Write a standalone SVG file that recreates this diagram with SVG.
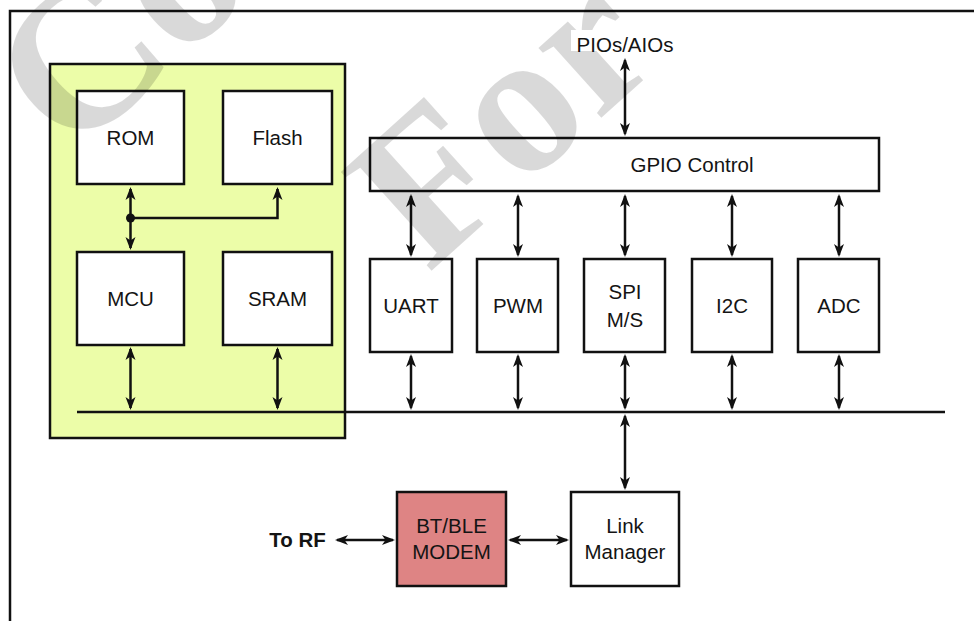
<svg xmlns="http://www.w3.org/2000/svg" width="974" height="621" viewBox="0 0 974 621">
  <style>
    .box { fill: #ffffff; stroke: #111111; stroke-width: 2.5; }
    .lbl { font-family: "Liberation Sans", Arial, sans-serif; font-size: 20.5px; fill: #141414; text-anchor: middle; }
    .bold { font-weight: bold; }
    .wire { fill: none; stroke: #111111; stroke-width: 2.5; }
    .arr { fill: none; stroke: #111111; stroke-width: 2.5; marker-start: url(#ah); marker-end: url(#ah); }
    .wm { font-family: "Liberation Serif", "Times New Roman", serif; font-weight: bold; font-size: 205px; fill: #000000; fill-opacity: 0.15; }
  </style>
  <defs>
    <marker id="ah" viewBox="0 0 13 12" refX="11" refY="6" markerWidth="13" markerHeight="12" markerUnits="userSpaceOnUse" orient="auto-start-reverse">
      <path d="M0,1 L13,6 L0,11 L3.5,6 Z" fill="#111111"/>
    </marker>
  </defs>

  <rect width="974" height="621" fill="#ffffff"/>

  <!-- outer frame (top and left edges) -->
  <path d="M10,621 L10,11 L974,11" class="wire"/>

  <!-- processor subsystem -->
  <g id="cpu-block">
    <rect x="50" y="64" width="295" height="374" fill="#ecfda8" stroke="#111111" stroke-width="2.5"/>
  </g>
  <g id="rom">
    <rect class="box" x="77" y="91" width="107" height="93"/>
    <text class="lbl" x="130.5" y="145">ROM</text>
  </g>
  <g id="flash">
    <rect class="box" x="223" y="91" width="109" height="93"/>
    <text class="lbl" x="277.5" y="145">Flash</text>
  </g>
  <g id="mcu">
    <rect class="box" x="77" y="252" width="107" height="93"/>
    <text class="lbl" x="130.5" y="306">MCU</text>
  </g>
  <g id="sram">
    <rect class="box" x="223" y="252" width="109" height="93"/>
    <text class="lbl" x="277.5" y="306">SRAM</text>
  </g>

  <!-- GPIO and peripherals -->
  <g id="gpio">
    <rect class="box" x="370" y="138" width="509" height="53"/>
    <text class="lbl" x="692" y="172">GPIO Control</text>
  </g>
  <g id="uart">
    <rect class="box" x="370" y="259" width="82" height="93"/>
    <text class="lbl" x="411" y="313">UART</text>
  </g>
  <g id="pwm">
    <rect class="box" x="477" y="259" width="81" height="93"/>
    <text class="lbl" x="518" y="313">PWM</text>
  </g>
  <g id="spi">
    <rect class="box" x="584" y="259" width="81" height="93"/>
    <text class="lbl" x="625" y="299">SPI</text>
    <text class="lbl" x="625" y="327">M/S</text>
  </g>
  <g id="i2c">
    <rect class="box" x="692" y="259" width="80" height="93"/>
    <text class="lbl" x="732" y="313">I2C</text>
  </g>
  <g id="adc">
    <rect class="box" x="798" y="259" width="81" height="93"/>
    <text class="lbl" x="839" y="313">ADC</text>
  </g>

  <!-- radio path -->
  <g id="modem">
    <rect x="397" y="492" width="109" height="94" fill="#de8484" stroke="#111111" stroke-width="2.5"/>
    <text class="lbl" x="451.5" y="533">BT/BLE</text>
    <text class="lbl" x="451.5" y="559">MODEM</text>
  </g>
  <g id="link-manager">
    <rect class="box" x="571" y="492" width="108" height="94"/>
    <text class="lbl" x="625" y="533">Link</text>
    <text class="lbl" x="625" y="559">Manager</text>
  </g>
  <g id="to-rf">
    <text class="lbl bold" x="297.5" y="547">To RF</text>
  </g>

  <!-- connectors -->
  <g id="connectors">
    <line class="wire" x1="77" y1="412" x2="945" y2="412"/>
    <line class="arr" x1="625" y1="60" x2="625" y2="134"/>
    <line class="arr" x1="411" y1="196" x2="411" y2="255"/>
    <line class="arr" x1="518" y1="196" x2="518" y2="255"/>
    <line class="arr" x1="625" y1="196" x2="625" y2="255"/>
    <line class="arr" x1="732" y1="196" x2="732" y2="255"/>
    <line class="arr" x1="839" y1="196" x2="839" y2="255"/>
    <line class="arr" x1="411" y1="356" x2="411" y2="408"/>
    <line class="arr" x1="518" y1="356" x2="518" y2="408"/>
    <line class="arr" x1="625" y1="356" x2="625" y2="408"/>
    <line class="arr" x1="732" y1="356" x2="732" y2="408"/>
    <line class="arr" x1="839" y1="356" x2="839" y2="408"/>
    <line class="arr" x1="625" y1="416" x2="625" y2="488"/>
    <line class="arr" x1="130.5" y1="349" x2="130.5" y2="408"/>
    <line class="arr" x1="277.5" y1="349" x2="277.5" y2="408"/>
    <line class="arr" x1="130.5" y1="189" x2="130.5" y2="248"/>
    <path class="wire" d="M130.5,218 L277.5,218 L277.5,189" marker-end="url(#ah)"/>
    <circle cx="130.5" cy="218" r="4.5" fill="#111111"/>
    <line class="arr" x1="510" y1="540" x2="567" y2="540"/>
    <line class="arr" x1="337" y1="540" x2="393" y2="540"/>
  </g>

  <!-- watermark -->
  <g id="watermark">
    <text class="wm" transform="translate(70,160) rotate(-42)">Co</text>
    <text class="wm" transform="translate(428,274) rotate(-42)">For</text>
  </g>

  <g id="pios-label">
    <rect x="571" y="30" width="108" height="21" fill="#ffffff"/>
    <text class="lbl" x="625" y="52">PIOs/AIOs</text>
  </g>
</svg>
